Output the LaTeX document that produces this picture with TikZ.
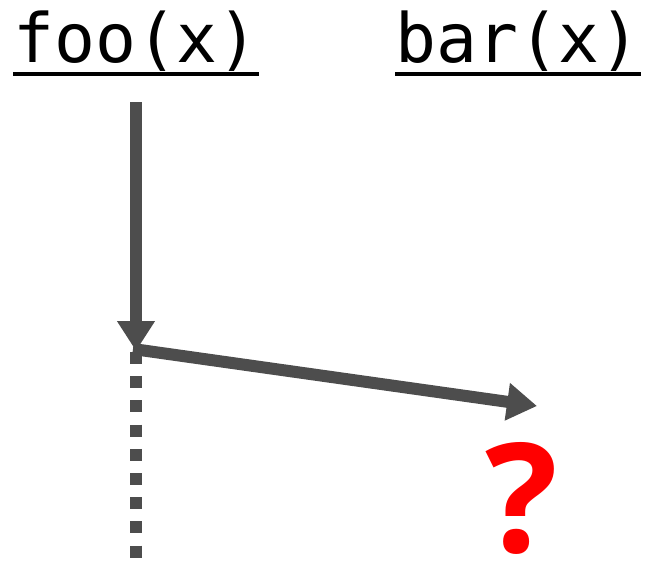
\documentclass[tikz,border=0pt]{standalone}
\usepackage{fontspec}
\usetikzlibrary{arrows.meta}
\newfontfamily\monofnt{DejaVu Sans Mono}
\newfontfamily\qfnt{Open Sans}
\definecolor{arrgray}{HTML}{4D4D4D}
\definecolor{qred}{HTML}{FF0000}
\tikzset{
  fname/.style={anchor=base west, inner sep=0pt, font=\monofnt\fontsize{68}{68}\selectfont},
  uline/.style={line width=4pt, black},
  flow/.style={line width=12pt, arrgray, -{Triangle[length=30pt,width=36pt]}},
  dotline/.style={line width=12pt, arrgray, dash pattern=on 12pt off 12.2pt},
  qmark/.style={anchor=base, inner sep=0pt, text depth=0pt, text=qred, font=\qfnt\bfseries\fontsize{152}{152}\selectfont}
}
\begin{document}
\begin{tikzpicture}[x=1pt,y=-1pt]
\useasboundingbox (0,0) rectangle (645,563);
\node[fname] (foo) at (13,62) {foo(x)};
\node[fname] (bar) at (395,62) {bar(x)};
\draw[uline] ([yshift=-12pt]foo.base west) -- ([yshift=-12pt]foo.base east);
\draw[uline] ([yshift=-12pt]bar.base west) -- ([yshift=-12pt]bar.base east);
\coordinate (top) at (136,102);
\coordinate (mid) at (136,351);
\coordinate (start2) at (133,349);
\coordinate (dotstart) at (136,352);
\coordinate (bot) at (136,559);
\coordinate (tip) at (537,406);
\draw[dotline] (dotstart) -- (bot);
\draw[flow] (top) -- (mid);
\draw[flow] (start2) -- (tip);
\node[qmark] (q) at (522,552) {?};
\end{tikzpicture}
\end{document}
